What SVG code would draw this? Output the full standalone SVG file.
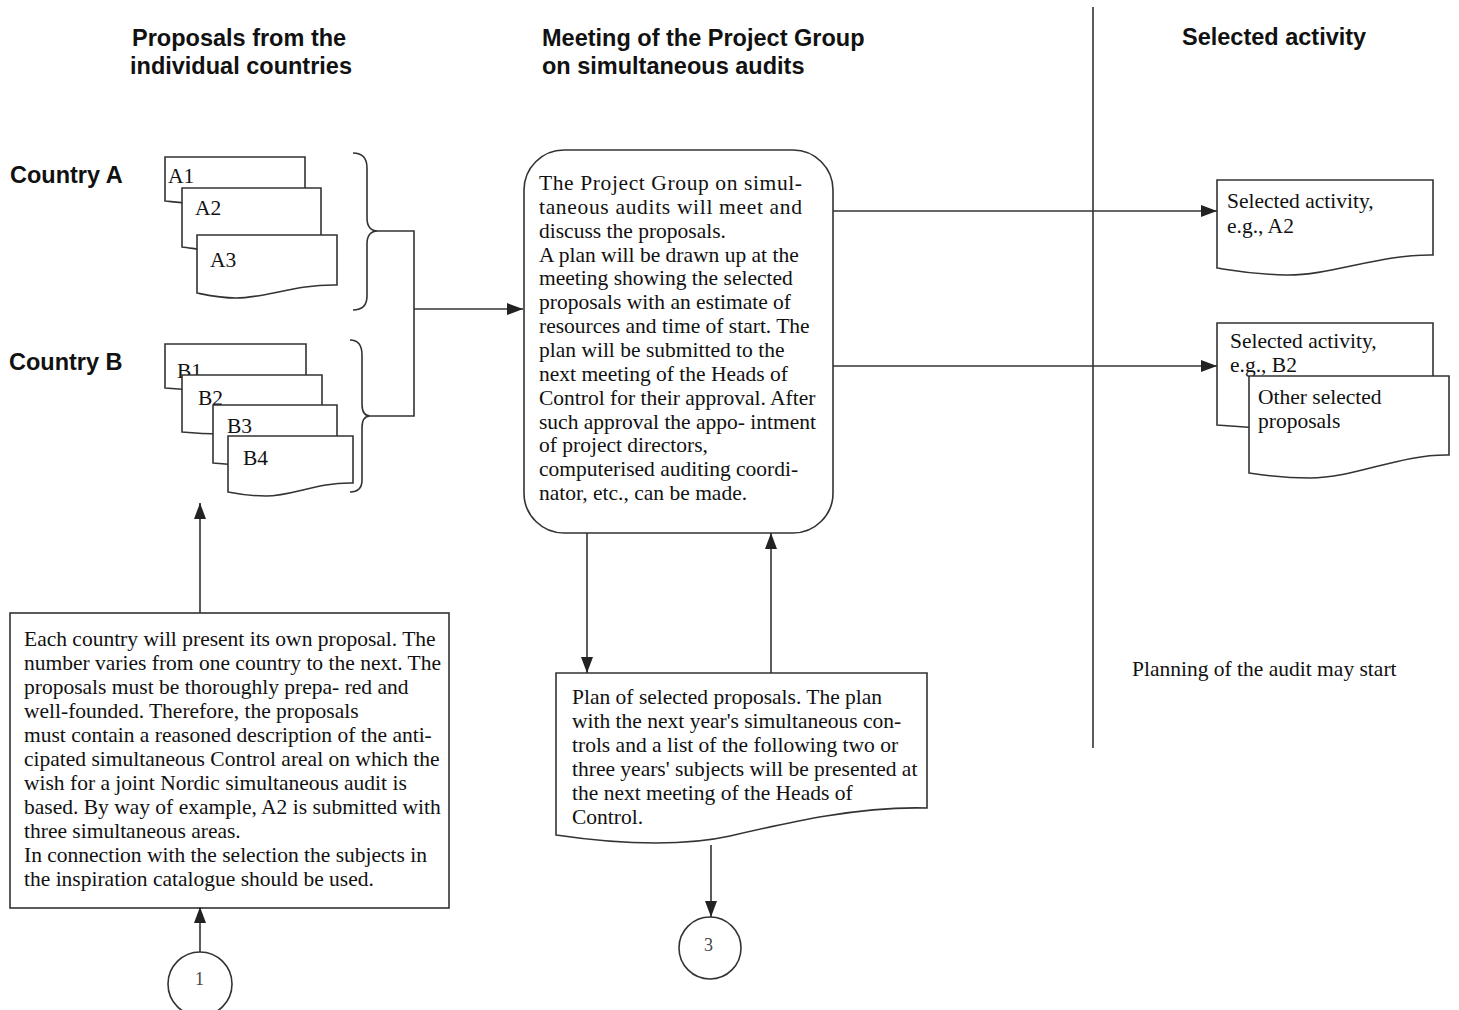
<svg xmlns="http://www.w3.org/2000/svg" width="1459" height="1010" viewBox="0 0 1459 1010">
<defs>
<marker id="arr" viewBox="0 0 16 12" refX="16" refY="6" markerWidth="16" markerHeight="12" markerUnits="userSpaceOnUse" orient="auto">
<path d="M0,0 L16,6 L0,12 Z" fill="#222"/>
</marker>
<style>
.hd{font-family:"Liberation Sans",Arial,sans-serif;font-weight:bold;font-size:23.5px;fill:#111}
.tx{font-family:"Liberation Serif","Times New Roman",serif;font-size:21.5px;fill:#111}
.num{font-family:"Liberation Serif","Times New Roman",serif;font-size:18px;fill:#444}
.sh{fill:#fff;stroke:#333;stroke-width:1.6}
.ln{fill:none;stroke:#333;stroke-width:1.6}
.cn{fill:none;stroke:#333;stroke-width:1.6;marker-end:url(#arr)}
</style>
</defs>
<rect width="1459" height="1010" fill="#fff"/>

<g id="headers">
<text class="hd" x="132" y="46">Proposals from the</text>
<text class="hd" x="130" y="74">individual countries</text>
<text class="hd" x="542" y="46">Meeting of the Project Group</text>
<text class="hd" x="542" y="74">on simultaneous audits</text>
<text class="hd" x="1182" y="45">Selected activity</text>
<text class="hd" x="10" y="183">Country A</text>
<text class="hd" x="9" y="370">Country B</text>
</g>

<g id="divider"><line class="ln" x1="1093" y1="7" x2="1093" y2="748"/></g>

<g id="docA1"><path class="sh" d="M165,157 H305 V193 C265,192 235,205 205,204 C190,204 175,202 165,201 Z"/><text class="tx" x="168" y="183">A1</text></g>
<g id="docA2"><path class="sh" d="M182,188 H321 V240 C280,239 250,252 220,251 C205,251 192,248 182,247 Z"/><text class="tx" x="195" y="215">A2</text></g>
<g id="docA3"><path class="sh" d="M197,235 H337 V285 C296,284 266,298 236,298 C220,298 207,295 197,293 Z"/><text class="tx" x="210" y="267">A3</text></g>

<g id="docB1"><path class="sh" d="M165,344 H306 V381 C266,380 236,391 206,390 C190,390 175,389 165,388 Z"/><text class="tx" x="177" y="378">B1</text></g>
<g id="docB2"><path class="sh" d="M182,375 H322 V424 C282,423 252,435 222,434 C205,434 192,433 182,432 Z"/><text class="tx" x="198" y="405">B2</text></g>
<g id="docB3"><path class="sh" d="M213,405 H337 V455 C302,454 275,466 250,465 C235,465 222,464 213,463 Z"/><text class="tx" x="227" y="433">B3</text></g>
<g id="docB4"><path class="sh" d="M228,436 H353 V483 C318,482 292,496 266,496 C250,496 238,494 228,492 Z"/><text class="tx" x="243" y="465">B4</text></g>

<g id="braces">
<path class="ln" d="M353,153 C362,153 367,158 367,168 V218 C367,227 371,231 378,231 C371,231 367,235 367,244 V296 C367,305 362,310 353,310"/>
<path class="ln" d="M350,340 C358,340 362,345 362,355 V404 C362,412 365,416 370,416 C365,416 362,420 362,428 V480 C362,488 358,492 350,492"/>
</g>

<g id="meeting">
<rect class="sh" x="524" y="150" width="309" height="383" rx="40" ry="40"/>
<text class="tx">
<tspan x="539" y="190" textLength="263" lengthAdjust="spacing">The Project Group on simul-</tspan>
<tspan x="539" y="213.9" textLength="263" lengthAdjust="spacing">taneous audits will meet and</tspan>
<tspan x="539" y="237.7">discuss the proposals.</tspan>
<tspan x="539" y="261.6">A plan will be drawn up at the</tspan>
<tspan x="539" y="285.4">meeting showing the selected</tspan>
<tspan x="539" y="309.3">proposals with an estimate of</tspan>
<tspan x="539" y="333.1">resources and time of start. The</tspan>
<tspan x="539" y="357">plan will be submitted to the</tspan>
<tspan x="539" y="380.8">next meeting of the Heads of</tspan>
<tspan x="539" y="404.7">Control for their approval. After</tspan>
<tspan x="539" y="428.5">such approval the appo- intment</tspan>
<tspan x="539" y="452.4">of project directors,</tspan>
<tspan x="539" y="476.2">computerised auditing coordi-</tspan>
<tspan x="539" y="500">nator, etc., can be made.</tspan>
</text>
</g>

<g id="selA2"><path class="sh" d="M1217,180 H1433 V255 C1380,254 1330,276 1285,275 C1250,274 1230,270 1217,268 Z"/>
<text class="tx"><tspan x="1227" y="208">Selected activity,</tspan><tspan x="1227" y="233">e.g., A2</tspan></text></g>

<g id="selB2"><path class="sh" d="M1217,323 H1433 V418 C1380,417 1330,430 1285,429 C1250,428 1230,426 1217,425 Z"/>
<text class="tx"><tspan x="1230" y="348">Selected activity,</tspan><tspan x="1230" y="372">e.g., B2</tspan></text></g>

<g id="selOther"><path class="sh" d="M1249,376 H1449 V455 C1400,454 1355,478 1310,478 C1280,478 1262,475 1249,473 Z"/>
<text class="tx"><tspan x="1258" y="404">Other selected</tspan><tspan x="1258" y="428">proposals</tspan></text></g>

<g id="planningNote"><text class="tx" x="1132" y="676">Planning of the audit may start</text></g>

<g id="countryProposals">
<rect class="sh" x="10" y="613" width="439" height="295"/>
<text class="tx">
<tspan x="24" y="646">Each country will present its own proposal. The</tspan>
<tspan x="24" y="670">number varies from one country to the next. The</tspan>
<tspan x="24" y="694">proposals must be thoroughly prepa- red and</tspan>
<tspan x="24" y="718">well-founded. Therefore, the proposals</tspan>
<tspan x="24" y="742">must contain a reasoned description of the anti-</tspan>
<tspan x="24" y="766">cipated simultaneous Control areal on which the</tspan>
<tspan x="24" y="790">wish for a joint Nordic simultaneous audit is</tspan>
<tspan x="24" y="814">based. By way of example, A2 is submitted with</tspan>
<tspan x="24" y="838">three simultaneous areas.</tspan>
<tspan x="24" y="862">In connection with the selection the subjects in</tspan>
<tspan x="24" y="886">the inspiration catalogue should be used.</tspan>
</text>
</g>

<g id="planDoc"><path class="sh" d="M556,673 H927 V808 C860,806 790,822 730,836 C690,845 630,846 556,835 Z"/>
<text class="tx">
<tspan x="572" y="704">Plan of selected proposals. The plan</tspan>
<tspan x="572" y="728">with the next year's simultaneous con-</tspan>
<tspan x="572" y="752">trols and a list of the following two or</tspan>
<tspan x="572" y="776">three years' subjects will be presented at</tspan>
<tspan x="572" y="800">the next meeting of the Heads of</tspan>
<tspan x="572" y="824">Control.</tspan>
</text>
</g>

<g id="conn1"><circle class="sh" cx="200" cy="984" r="32"/><text class="num" x="195" y="985">1</text></g>
<g id="conn3"><circle class="sh" cx="710" cy="948" r="31"/><text class="num" x="704" y="951">3</text></g>

<g id="connectors">
<polyline class="ln" points="378,231 414,231 414,416 370,416"/>
<line class="cn" x1="414" y1="309" x2="523" y2="309"/>
<line class="cn" x1="833" y1="211" x2="1217" y2="211"/>
<line class="cn" x1="833" y1="366" x2="1217" y2="366"/>
<line class="cn" x1="587" y1="533" x2="587" y2="673"/>
<line class="cn" x1="771" y1="673" x2="771" y2="533"/>
<line class="cn" x1="711" y1="845" x2="711" y2="917"/>
<line class="cn" x1="200" y1="613" x2="200" y2="503"/>
<line class="cn" x1="200" y1="952" x2="200" y2="907"/>
</g>
</svg>
